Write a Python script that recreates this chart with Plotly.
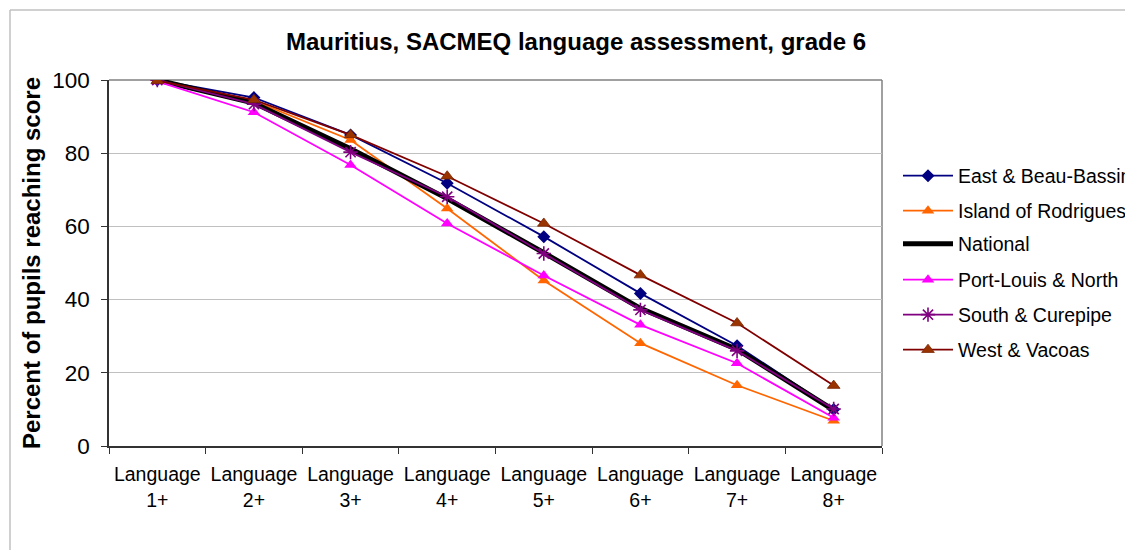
import plotly.graph_objects as go

categories = ["Language<br>1+", "Language<br>2+", "Language<br>3+", "Language<br>4+",
              "Language<br>5+", "Language<br>6+", "Language<br>7+", "Language<br>8+"]
east = [100, 95.2, 85.0, 71.8, 57.2, 41.7, 27.4, 10.0]
rodrigues = [100, 94.3, 83.6, 64.9, 45.2, 28.1, 16.6, 6.9]
national = [100, 93.7, 81.2, 67.6, 52.8, 37.6, 26.4, 9.8]
port_louis = [99.6, 91.2, 76.8, 60.8, 46.6, 33.1, 22.6, 7.7]
south = [100, 93.4, 80.3, 68.1, 52.6, 37.2, 26.0, 10.1]
west = [99.8, 94.6, 85.0, 73.7, 60.8, 46.7, 33.6, 16.5]
y_ticks = [0, 20, 40, 60, 80, 100]

FONT = "Arial, Liberation Sans, sans-serif"
OFF = 8  # browser default body margin
W, H = 1133 - OFF, 550 - OFF
L, R, T, B = 109 - OFF, 882 - OFF, 80 - OFF, 446 - OFF

def px_x(px):
    return (px - OFF - L) / (R - L)

def px_y(py):
    return (B - (py - OFF)) / (B - T)

series = [
    ("East & Beau-Bassin", east, dict(color="#000080", width=1.8), dict(symbol="diamond", size=10, color="#000080")),
    ("Island of Rodrigues", rodrigues, dict(color="#FF6600", width=1.8), dict(symbol="triangle-up", size=11, color="#FF6600")),
    ("National", national, dict(color="#000000", width=5), None),
    ("Port-Louis & North", port_louis, dict(color="#FF00FF", width=1.8), dict(symbol="triangle-up", size=11, color="#FF00FF")),
    ("South & Curepipe", south, dict(color="#800080", width=1.8), dict(symbol="asterisk-open", size=12, color="#800080", line=dict(color="#800080", width=1.6))),
    ("West & Vacoas", west, dict(color="#800000", width=1.8), dict(symbol="triangle-up", size=11, color="#993300", line=dict(color="#7a2600", width=0.8))),
]

legend_y_px = [176, 211, 244, 280, 315, 350]

fig = go.Figure()
layout_legends = {}
for i, (name, vals, line, marker) in enumerate(series):
    lg = "legend" if i == 0 else f"legend{i+1}"
    kw = dict(x=categories, y=vals, name=name, line=line, legend=lg)
    if marker is None:
        kw["mode"] = "lines"
    else:
        kw["mode"] = "lines+markers"
        kw["marker"] = marker
    fig.add_trace(go.Scatter(**kw))
    layout_legends[lg] = dict(
        x=px_x(898), xanchor="left", xref="paper",
        y=px_y(legend_y_px[i]), yanchor="middle", yref="paper",
        font=dict(family=FONT, size=19.5, color="#000000"),
        bgcolor="rgba(0,0,0,0)", borderwidth=0,
        itemwidth=50,
    )

shapes = [
    # outer chart frame
    dict(type="line", xref="paper", yref="paper", x0=px_x(10), x1=px_x(1200), y0=px_y(10), y1=px_y(10),
         line=dict(color="#C0C0C0", width=1.5), layer="below"),
    dict(type="line", xref="paper", yref="paper", x0=px_x(10), x1=px_x(10), y0=px_y(10), y1=px_y(600),
         line=dict(color="#C0C0C0", width=1.5), layer="below"),
    # plot area border top and right
    dict(type="line", xref="paper", yref="paper", x0=0, x1=1, y0=1, y1=1,
         line=dict(color="#808080", width=1.5), layer="below"),
    dict(type="line", xref="paper", yref="paper", x0=1, x1=1, y0=0, y1=1,
         line=dict(color="#808080", width=1.5), layer="below"),
]

fig.update_layout(
    width=W, height=H,
    margin=dict(l=L, r=W - R, t=T, b=H - B, pad=0, autoexpand=False),
    paper_bgcolor="white", plot_bgcolor="white",
    font=dict(family=FONT, color="#000000"),
    title=dict(text="<b>Mauritius, SACMEQ language assessment, grade 6</b>",
               x=(576 - OFF) / W, xanchor="center", xref="container",
               y=1 - (42 - OFF) / H, yanchor="middle", yref="container",
               font=dict(family=FONT, size=24, color="#000000")),
    showlegend=True,
    shapes=shapes,
    **layout_legends,
)

fig.update_xaxes(
    type="category", range=[-0.5, 7.5], automargin=False, tickangle=0,
    tickson="boundaries", ticks="outside", ticklen=6, tickcolor="#333333", tickwidth=1.2,
    showline=True, linecolor="#333333", linewidth=1.5,
    showgrid=False, zeroline=False,
    ticklabelstandoff=10,
    tickfont=dict(family=FONT, size=19.5, color="#000000"),
)
fig.update_yaxes(
    range=[0, 100], tickvals=y_ticks, ticktext=[str(v) for v in y_ticks], automargin=False,
    ticks="outside", ticklen=6, tickcolor="#333333", tickwidth=1.2,
    showline=True, linecolor="#333333", linewidth=1.5,
    showgrid=True, gridcolor="#C0C0C0", gridwidth=1,
    zeroline=False,
    ticklabelstandoff=7,
    tickfont=dict(family=FONT, size=22.5, color="#000000"),
    title=dict(text="<b>Percent of pupils reaching score</b>", standoff=5,
               font=dict(family=FONT, size=24, color="#000000")),
)

fig.write_html("out.html")
